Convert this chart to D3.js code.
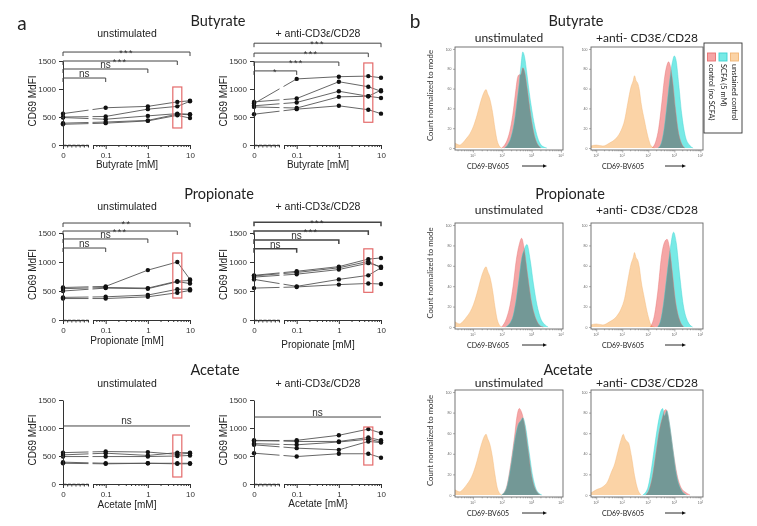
<!DOCTYPE html>
<html>
<head>
<meta charset="utf-8">
<script src="https://cdn.jsdelivr.net/npm/d3@7"></script>
<style>
body { margin: 0; background: #fff; }
svg { display: block; }
</style>
</head>
<body>
<svg id="fig" width="757" height="526"></svg>
<script>
// ---- panel a data: CD69 MdFI, one row per donor, doses in mM
const doses = [0, 0.1, 1, 5, 10];

const butUnstim = [[560, 665, 690, 770, 790], [500, 510, 640, 690, 780], [490, 460, 520, 560, 550], [390, 410, 440, 550, 540], [370, 390, 430, 530, 480]];
const butStim = [[740, 1180, 1220, 1230, 1200], [770, 830, 1130, 1040, 960], [700, 760, 960, 870, 980], [680, 660, 860, 870, 840], [550, 640, 700, 630, 560]];
const propUnstim = [[560, 580, 860, 1000, 700], [540, 560, 550, 670, 680], [500, 550, 540, 660, 630], [390, 400, 430, 530, 530], [370, 370, 400, 470, 510]];
const propStim = [[770, 840, 920, 1050, 1070], [760, 820, 900, 1010, 900], [740, 790, 870, 980, 920], [700, 580, 700, 770, 900], [550, 570, 610, 630, 620]];
const acUnstim = [[560, 580, 570, 530, 550], [520, 550, 510, 560, 560], [490, 490, 490, 500, 510], [390, 370, 370, 370, 370], [370, 360, 370, 360, 360]];
const acStim = [[770, 780, 870, 980, 910], [780, 760, 760, 830, 780], [720, 700, 750, 800, 750], [700, 640, 610, 760, 740], [550, 490, 540, 540, 470]];

// comparisons vs 0 mM: [dose, bracket level (MdFI), label]
const butUnstimSig = [[10, 1660, '***'], [5, 1500, '***'], [1, 1357, 'ns'], [0.1, 1196, 'ns']];
const butStimSig = [[10, 1818, '***'], [5, 1641, '***'], [1, 1482, '***'], [0.1, 1323, '*']];
const propUnstimSig = [[10, 1672, '**'], [5, 1534, '***'], [1, 1397, 'ns'], [0.1, 1241, 'ns']];
const propStimSig = [[10, 1687, '***'], [5, 1534, '***'], [1, 1381, 'ns'], [0.1, 1227, 'ns']];
const acUnstimNs = 1036;
const acStimNs = 1196;

// highlighted 5 mM range [low, high]
const butUnstimBox = [304, 1036];
const butStimBox = [406, 1465];
const propUnstimBox = [379, 1155];
const propStimBox = [477, 1227];
const acUnstimBox = [125, 875];
const acStimBox = [339, 1018];

const yTicks = [0, 500, 1000, 1500];

// ---- panel b data: [log10 CD69-BV605, % of mode]
const orangeUnstim = [[0.39, 5], [0.45, 4], [0.55, 3], [0.68, 6], [0.79, 10], [0.91, 15], [1.02, 22], [1.14, 33], [1.23, 43], [1.31, 51], [1.36, 55], [1.41, 58], [1.45, 59], [1.5, 55], [1.58, 49], [1.67, 36], [1.75, 20], [1.83, 7], [1.9, 2], [1.98, 0]];
const orangeStim = [[-0.2, 2], [0, 3], [0.26, 2], [0.51, 5], [0.77, 10], [0.96, 18], [1.09, 28], [1.21, 45], [1.34, 62], [1.42, 68], [1.47, 73], [1.53, 68], [1.6, 65], [1.66, 58], [1.72, 46], [1.85, 28], [1.98, 12], [2.11, 2], [2.24, 0]];
const orangeAcStim = [[-0.2, 2], [0, 5], [0.26, 8], [0.44, 13], [0.58, 22], [0.71, 30], [0.83, 42], [0.96, 54], [1.04, 59], [1.1, 55], [1.15, 53], [1.25, 50], [1.35, 38], [1.47, 19], [1.6, 5], [1.72, 0]];

const butUnstimCtrl = [[1.98, 0], [2.08, 3], [2.18, 9], [2.28, 20], [2.38, 38], [2.46, 58], [2.53, 72], [2.58, 74], [2.63, 74], [2.7, 81], [2.77, 76], [2.85, 60], [2.93, 42], [3.02, 24], [3.12, 10], [3.22, 3], [3.32, 0]];
const butUnstimScfa = [[2.08, 0], [2.2, 4], [2.3, 11], [2.4, 24], [2.5, 46], [2.58, 66], [2.64, 84], [2.7, 97], [2.76, 92], [2.84, 75], [2.92, 56], [3.0, 40], [3.1, 23], [3.2, 11], [3.3, 4], [3.42, 1], [3.52, 0]];
const butStimCtrl = [[2.15, 0], [2.28, 6], [2.4, 20], [2.52, 46], [2.63, 72], [2.72, 84], [2.78, 87], [2.85, 82], [2.94, 66], [3.04, 40], [3.15, 17], [3.27, 5], [3.4, 0]];
const butStimScfa = [[2.38, 0], [2.5, 5], [2.6, 18], [2.71, 42], [2.82, 68], [2.92, 86], [3.0, 93], [3.07, 88], [3.17, 64], [3.28, 35], [3.42, 12], [3.58, 3], [3.72, 0]];
const propUnstimCtrl = [[1.98, 0], [2.14, 8], [2.27, 22], [2.37, 40], [2.48, 66], [2.58, 81], [2.66, 87], [2.74, 78], [2.86, 52], [3.0, 24], [3.16, 7], [3.3, 1], [3.4, 0]];
const propUnstimScfa = [[2.12, 0], [2.34, 8], [2.46, 24], [2.57, 47], [2.66, 67], [2.75, 76], [2.84, 81], [2.95, 66], [3.06, 43], [3.18, 22], [3.3, 9], [3.46, 2], [3.56, 0]];
const propStimCtrl = [[2.08, 0], [2.24, 12], [2.38, 38], [2.5, 68], [2.62, 83], [2.72, 86], [2.81, 78], [2.92, 54], [3.04, 26], [3.2, 7], [3.36, 0]];
const propStimScfa = [[2.36, 0], [2.48, 7], [2.6, 26], [2.72, 52], [2.85, 78], [2.97, 93], [3.07, 83], [3.2, 52], [3.34, 22], [3.52, 5], [3.7, 0]];
const acUnstimCtrl = [[1.98, 0], [2.14, 7], [2.3, 32], [2.42, 57], [2.5, 76], [2.58, 84], [2.65, 81], [2.75, 70], [2.88, 44], [3.02, 16], [3.18, 3], [3.3, 0]];
const acUnstimScfa = [[1.98, 0], [2.14, 6], [2.3, 29], [2.42, 52], [2.54, 68], [2.63, 72], [2.7, 75], [2.78, 68], [2.9, 45], [3.04, 18], [3.2, 3], [3.35, 0]];
const acStimCtrl = [[1.9, 0], [2.03, 5], [2.16, 18], [2.29, 40], [2.42, 62], [2.55, 76], [2.62, 82], [2.68, 83], [2.75, 78], [2.85, 62], [2.97, 40], [3.1, 20], [3.26, 7], [3.46, 2], [3.6, 0]];
const acStimScfa = [[1.79, 0], [1.97, 6], [2.1, 22], [2.23, 45], [2.36, 67], [2.49, 82], [2.55, 84], [2.62, 77], [2.71, 82], [2.81, 70], [2.94, 45], [3.07, 21], [3.26, 5], [3.46, 0]];

const histYTicks = [0, 20, 40, 60, 80, 100];
const legendItems = ['control (no SCFA)', 'SCFA (5 mM)', 'unstained control'];

const svg = d3.select('#fig');
const ARIAL = 'Liberation Sans, Arial, sans-serif';
const CAL = 'Lato, Carlito, sans-serif';

function txt(x, y, s, size, font, anchor) {
  return svg.append('text').attr('x', x).attr('y', y).text(s)
    .attr('font-size', size).attr('font-family', font)
    .attr('text-anchor', anchor || 'middle').attr('dominant-baseline', 'central')
    .attr('fill', '#222');
}

// ---------- panel a
function linePanel(c) {
  const g = svg.append('g');
  const y = d3.scaleLinear().domain([0, 1500]).range([c.y0, c.y1]);
  const xZero = d3.scaleLinear().domain([0, 0.03]).range([c.x0, c.x0 + 25]);
  const xLog = d3.scaleLog().domain([0.05, 10]).range([c.x0 + 30, c.x0 + 127]);
  const xp = v => (v === 0 ? xZero(0) : xLog(v));

  const line = d3.line().x((v, i) => xp(doses[i])).y(v => y(v));
  g.selectAll('path.donor').data(c.data).join('path')
    .attr('class', 'donor').attr('d', line)
    .attr('fill', 'none').attr('stroke', '#555').attr('stroke-width', 0.9);

  // break between the 0 segment and the log segment
  g.append('rect').attr('x', xZero(0.03) + 0.5).attr('width', 4)
    .attr('y', y(1500) - 4).attr('height', y(0) - y(1500) + 2).attr('fill', '#fff');

  c.data.forEach(d => {
    g.selectAll(null).data(d).join('circle')
      .attr('cx', (v, i) => xp(doses[i])).attr('cy', v => y(v))
      .attr('r', 2.2).attr('fill', '#111');
  });

  // red highlight of 5 mM
  g.append('rect').attr('x', xLog(5) - 4.5).attr('width', 9)
    .attr('y', y(c.box[1])).attr('height', y(c.box[0]) - y(c.box[1]))
    .attr('fill', 'none').attr('stroke', '#e46a6a').attr('stroke-width', 1.2);

  // axes
  g.append('g').attr('transform', `translate(${c.x0},0)`)
    .call(d3.axisLeft(y).tickValues(yTicks).tickFormat(d3.format('d')).tickSize(4).tickSizeOuter(0).tickPadding(3));
  g.append('g').attr('transform', `translate(0,${c.y0})`)
    .call(d3.axisBottom(xZero).tickValues([0]).tickFormat(d3.format('d')).tickSize(4).tickSizeOuter(0).tickPadding(3));
  g.append('g').attr('transform', `translate(0,${c.y0})`)
    .call(d3.axisBottom(xZero).tickValues([0.005, 0.01, 0.015, 0.02, 0.025, 0.03]).tickFormat('').tickSize(2.5).tickSizeOuter(0))
    .select('.domain').attr('stroke-dasharray', '3,1.5').attr('stroke-width', 1.4);
  g.append('g').attr('transform', `translate(0,${c.y0})`)
    .call(d3.axisBottom(xLog).tickValues([0.05, 0.1, 1, 10]).tickFormat(d => (d === 0.05 ? '' : String(d))).tickSize(4).tickSizeOuter(0).tickPadding(3));
  const minors = [];
  [0.01, 0.1, 1].forEach(b => { for (let k = 2; k <= 9; k++) if (b * k > 0.05) minors.push(b * k); });
  g.append('g').attr('transform', `translate(0,${c.y0})`)
    .call(d3.axisBottom(xLog).tickValues(minors).tickFormat('').tickSize(2).tickSizeOuter(0))
    .select('.domain').remove();
  g.selectAll('.tick text').attr('font-size', 8).attr('font-family', ARIAL).attr('fill', '#333');
  g.selectAll('.domain, .tick line').attr('stroke', '#333');

  // significance brackets
  (c.sig || []).forEach(([to, lvl, lab]) => {
    const yb = y(lvl), xa = xp(0), xb = xp(to);
    g.append('path').attr('d', `M${xa},${yb + 4}V${yb}H${xb}V${yb + 4}`)
      .attr('fill', 'none').attr('stroke', '#444').attr('stroke-width', c.bold ? 1.5 : 1);
    const isStar = lab.indexOf('*') >= 0;
    g.append('text').attr('x', (xa + xb) / 2).attr('y', isStar ? yb + 3.6 : yb - 1.2).text(lab)
      .attr('font-size', isStar ? 9 : 10).attr('letter-spacing', isStar ? 1.4 : 0)
      .attr('font-family', ARIAL).attr('text-anchor', 'middle').attr('fill', '#333');
  });
  if (c.ns !== undefined) {
    const yb = y(c.ns);
    g.append('line').attr('x1', xp(0)).attr('x2', xp(10)).attr('y1', yb).attr('y2', yb)
      .attr('stroke', '#444').attr('stroke-width', 1);
    g.append('text').attr('x', (xp(0) + xp(10)) / 2).attr('y', yb - 1.5).text('ns')
      .attr('font-size', 10).attr('font-family', ARIAL).attr('text-anchor', 'middle').attr('fill', '#333');
  }

  txt(c.x0 + 64, c.subY, c.sub, 10.5, ARIAL);
  txt(c.x0 + 64, c.xlabY, c.xlab, 10, ARIAL);
  svg.append('text').attr('transform', `translate(${c.x0 - 31},${(c.y0 + c.y1) / 2 - 2}) rotate(-90)`)
    .text('CD69 MdFI').attr('font-size', 10).attr('font-family', ARIAL)
    .attr('text-anchor', 'middle').attr('dominant-baseline', 'central').attr('fill', '#222');
}

const C1 = 63, C2 = 254;
linePanel({ x0: C1, y0: 145, y1: 61, data: butUnstim, sig: butUnstimSig, box: butUnstimBox, sub: 'unstimulated', subY: 33, xlab: 'Butyrate [mM]', xlabY: 164 });
linePanel({ x0: C2, y0: 145, y1: 61, data: butStim, sig: butStimSig, box: butStimBox, sub: '+ anti-CD3ε/CD28', subY: 33, xlab: 'Butyrate [mM]', xlabY: 164 });
linePanel({ x0: C1, y0: 320, y1: 233, data: propUnstim, sig: propUnstimSig, box: propUnstimBox, sub: 'unstimulated', subY: 206, xlab: 'Propionate [mM]', xlabY: 340 });
linePanel({ x0: C2, y0: 320, y1: 233, data: propStim, sig: propStimSig, box: propStimBox, bold: true, sub: '+ anti-CD3ε/CD28', subY: 206, xlab: 'Propionate [mM]', xlabY: 344 });
linePanel({ x0: C1, y0: 484, y1: 400, data: acUnstim, ns: acUnstimNs, box: acUnstimBox, sub: 'unstimulated', subY: 383, xlab: 'Acetate [mM]', xlabY: 504 });
linePanel({ x0: C2, y0: 484, y1: 400, data: acStim, ns: acStimNs, box: acStimBox, sub: '+ anti-CD3ε/CD28', subY: 383, xlab: 'Acetate [mM}', xlabY: 503 });

txt(22, 22, 'a', 19, CAL);
txt(218, 20, 'Butyrate', 14.5, CAL);
txt(219, 193, 'Propionate', 14.5, CAL);
txt(215, 369, 'Acetate', 14.5, CAL);

// ---------- panel b
const RED = '#f5a6a6', RED_L = '#e87070', CYAN = '#78eae6', CYAN_L = '#3cd2d2', ORANGE = '#fbd3a6', ORANGE_L = '#f2b574';

function histPanel(c) {
  const g = svg.append('g');
  const x = d3.scaleLinear().domain(c.dom).range([c.left, c.left + c.w]);
  const y = d3.scaleLinear().domain([-2, 102]).range([c.top + c.h, c.top]);
  const area = d3.area().x(d => x(d[0])).y0(y(0)).y1(d => y(d[1])).curve(d3.curveMonotoneX);
  const ln = d3.line().x(d => x(d[0])).y(d => y(d[1])).curve(d3.curveMonotoneX);
  const id = 'clip' + Math.round(c.left) + '_' + Math.round(c.top);
  g.append('clipPath').attr('id', id).append('rect')
    .attr('x', c.left).attr('y', c.top).attr('width', c.w).attr('height', c.h);
  const p = g.append('g').attr('clip-path', `url(#${id})`).style('isolation', 'isolate');
  [[c.orange, ORANGE], [c.ctrl, RED], [c.scfa, CYAN]].forEach(([d, f]) => {
    p.append('path').datum(d).attr('d', area).attr('fill', f).style('mix-blend-mode', 'multiply');
  });
  [[c.orange, ORANGE_L], [c.ctrl, RED_L], [c.scfa, CYAN_L]].forEach(([d, s]) => {
    p.append('path').datum(d).attr('d', ln).attr('fill', 'none').attr('stroke', s).attr('stroke-width', 0.6).attr('opacity', 0.7);
  });
  g.append('rect').attr('x', c.left).attr('y', c.top).attr('width', c.w).attr('height', c.h)
    .attr('fill', 'none').attr('stroke', '#666').attr('stroke-width', 0.9);

  const ya = g.append('g').attr('transform', `translate(${c.left},0)`)
    .call(d3.axisLeft(y).tickValues(histYTicks).tickSize(2).tickPadding(1.5));
  ya.select('.domain').remove();
  const dec = d3.range(Math.ceil(c.dom[0]), Math.floor(c.dom[1]) + 1);
  const xa = g.append('g').attr('transform', `translate(0,${c.top + c.h})`)
    .call(d3.axisBottom(x).tickValues(dec).tickFormat('').tickSize(2.5));
  xa.select('.domain').remove();
  const minor = [];
  d3.range(Math.floor(c.dom[0]), Math.ceil(c.dom[1])).forEach(e => {
    for (let k = 2; k <= 9; k++) { const v = e + Math.log10(k); if (v > c.dom[0] && v < c.dom[1]) minor.push(v); }
  });
  g.append('g').attr('transform', `translate(0,${c.top + c.h})`)
    .call(d3.axisBottom(x).tickValues(minor).tickFormat('').tickSize(1.3))
    .select('.domain').remove();
  g.selectAll('.tick line').attr('stroke', '#777').attr('stroke-width', 0.6);
  ya.selectAll('.tick text').attr('font-size', 3.5).attr('fill', '#666').attr('font-family', ARIAL);
  dec.forEach(e => {
    const t = g.append('text').attr('x', x(e)).attr('y', c.top + c.h + 7)
      .attr('font-size', 3.5).attr('font-family', ARIAL).attr('fill', '#666').attr('text-anchor', 'middle');
    t.append('tspan').text('10');
    t.append('tspan').text(e).attr('dy', -1.5).attr('font-size', 2.6);
  });

  txt(c.left + c.w / 2, c.titleY, c.title, 12, CAL);
  txt(c.labX, c.top + c.h + 16, 'CD69-BV605', 7, CAL);
  const ay = c.top + c.h + 16;
  g.append('line').attr('x1', c.arrow[0]).attr('x2', c.arrow[1] - 3).attr('y1', ay).attr('y2', ay)
    .attr('stroke', '#111').attr('stroke-width', 0.9);
  g.append('path').attr('d', `M${c.arrow[1]},${ay}l-4,-1.8v3.6z`).attr('fill', '#111');
}

const UDOM = [0.39, 4.07], SDOM = [-0.2, 4.1];
const rows = [
  { top: 47, h: 103, tY: 37, name: 'Butyrate', nY: 20, nX: 576, u: [orangeUnstim, butUnstimCtrl, butUnstimScfa], s: [orangeStim, butStimCtrl, butStimScfa] },
  { top: 223, h: 106, tY: 209, name: 'Propionate', nY: 193, nX: 570, u: [orangeUnstim, propUnstimCtrl, propUnstimScfa], s: [orangeStim, propStimCtrl, propStimScfa] },
  { top: 390, h: 107, tY: 382, name: 'Acetate', nY: 369, nX: 568, u: [orangeUnstim, acUnstimCtrl, acUnstimScfa], s: [orangeAcStim, acStimCtrl, acStimScfa] }
];
rows.forEach(r => {
  histPanel({ left: 455, w: 108, top: r.top, h: r.h, dom: UDOM, orange: r.u[0], ctrl: r.u[1], scfa: r.u[2], title: 'unstimulated', titleY: r.tY, labX: 488, arrow: [522, 547] });
  histPanel({ left: 591, w: 112, top: r.top, h: r.h, dom: SDOM, orange: r.s[0], ctrl: r.s[1], scfa: r.s[2], title: '+anti- CD3Ɛ/CD28', titleY: r.tY, labX: 623, arrow: [665, 686] });
  txt(r.nX, r.nY, r.name, 14.5, CAL);
  svg.append('text').attr('transform', `translate(430,${r.top + r.h / 2 - 3}) rotate(-90)`)
    .text('Count normalized to mode').attr('font-size', 7.8).attr('font-family', CAL)
    .attr('text-anchor', 'middle').attr('dominant-baseline', 'central').attr('fill', '#333');
});
txt(415, 20, 'b', 19, CAL);

// legend
const lg = svg.append('g');
lg.append('rect').attr('x', 704).attr('y', 43).attr('width', 38).attr('height', 90)
  .attr('fill', '#fff').attr('stroke', '#333').attr('stroke-width', 0.9);
const lcol = [[RED, RED_L], [CYAN, CYAN_L], [ORANGE, ORANGE_L]];
legendItems.forEach((s, i) => {
  const lx = 707.5 + i * 11.5;
  lg.append('rect').attr('x', lx).attr('y', 53).attr('width', 8).attr('height', 8)
    .attr('fill', lcol[i][0]).attr('stroke', lcol[i][1]).attr('stroke-width', 0.9);
  lg.append('text').attr('transform', `translate(${lx + 4},64) rotate(90)`).text(s)
    .attr('font-size', 7.4).attr('font-family', CAL).attr('dominant-baseline', 'central').attr('fill', '#222');
});
</script>
</body>
</html>
